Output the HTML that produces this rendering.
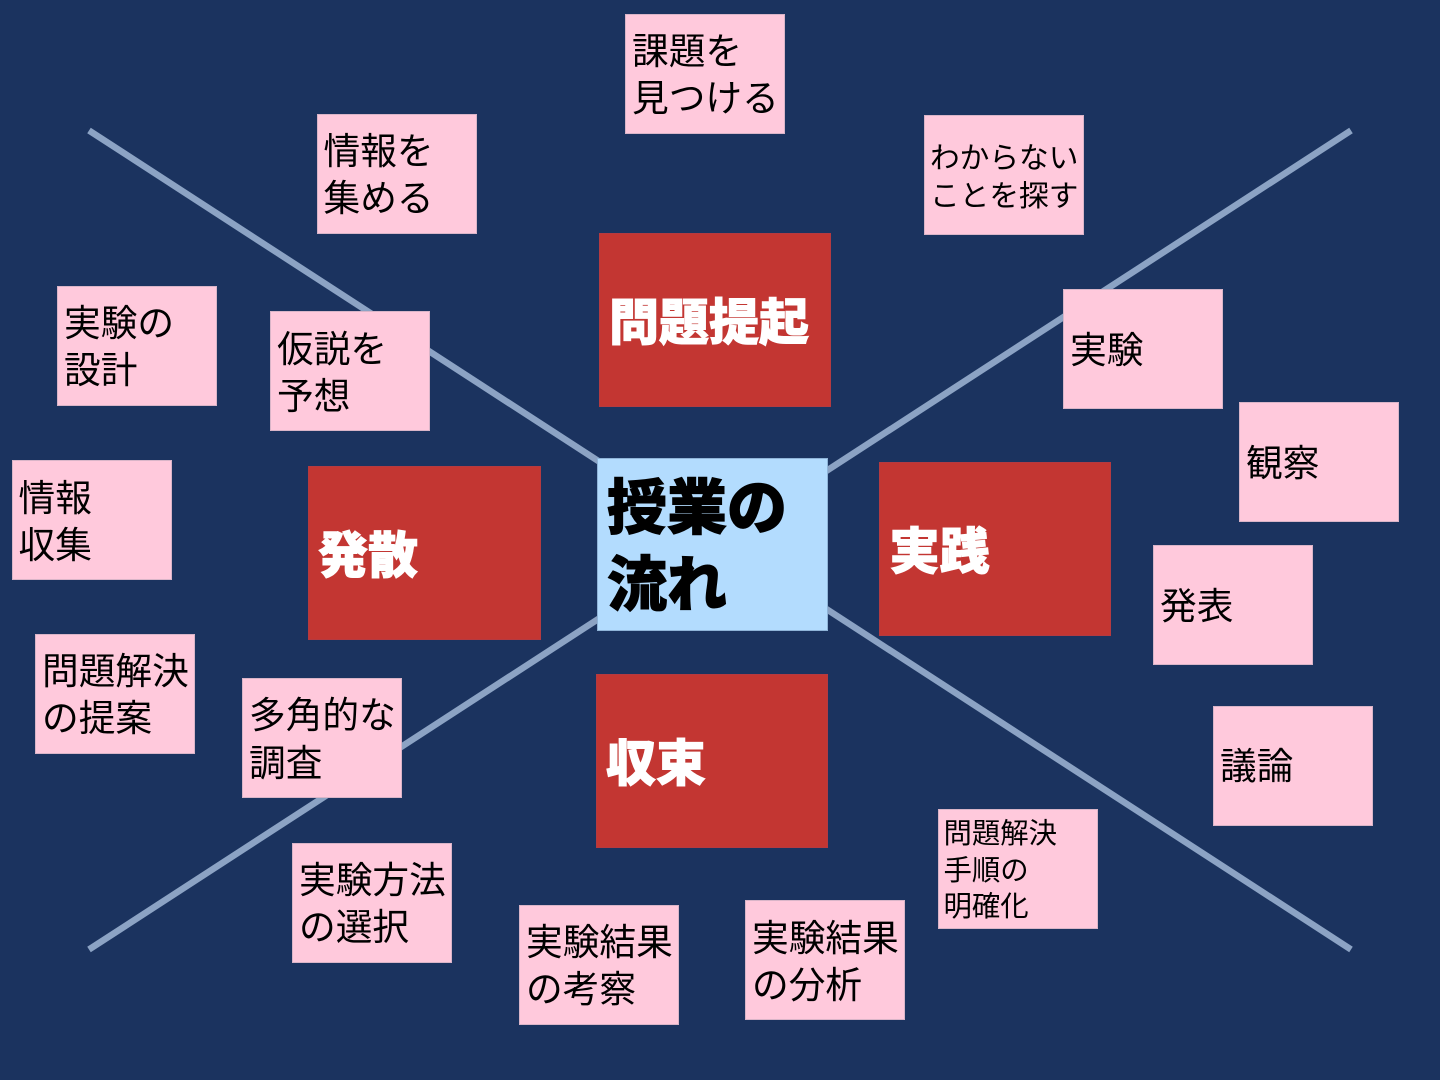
<!DOCTYPE html>
<html lang="ja"><head><meta charset="utf-8"><style>
html,body{margin:0;padding:0}
body{width:1440px;height:1080px;background:#1b335f;position:relative;overflow:hidden;font-family:"Liberation Sans","Noto Sans CJK JP",sans-serif}
svg{position:absolute;left:0;top:0}
.b{position:absolute;box-sizing:border-box}
.p{background:#ffc9dc;width:160px;height:120px;border:1px solid #d9b5c8}
.r{background:#c33632;width:232px;height:174px;border:1px solid #b53a40}
.t{position:absolute;white-space:nowrap;line-height:1;color:#000}
.p .t{font-size:36.7px;letter-spacing:0}
.r .t{font-size:50px;font-weight:900;color:#fff;-webkit-text-stroke:1px #fff;letter-spacing:0}
.c{font-size:60px;font-weight:900;-webkit-text-stroke:1px #000}
</style></head><body>
<svg width="1440" height="1080"><g stroke="#8ca3c4" stroke-width="6.5"><line x1="89" y1="130.5" x2="1351" y2="949.5"/><line x1="1351" y1="130.5" x2="89" y2="949.5"/></g></svg>

<div class="b r" style="left:599px;top:233px"><span class="t" style="left:9px;top:64px">問題提起</span></div>
<div class="b r" style="left:308px;top:466px;width:233px"><span class="t" style="left:9px;top:64px">発散</span></div>
<div class="b r" style="left:879px;top:462px"><span class="t" style="left:9.5px;top:64px">実践</span></div>
<div class="b r" style="left:596px;top:674px"><span class="t" style="left:9px;top:64px">収束</span></div>

<div class="b" style="left:597px;top:457.5px;width:231px;height:173px;background:#b3dcfe;border:1px solid #8fb4d8">
<span class="t c" style="left:9px;top:20px">授業の</span>
<span class="t c" style="left:9px;top:97px">流れ</span></div>

<div class="b p" style="left:625px;top:14px"><span class="t" style="left:6px;top:19px">課題を</span><span class="t" style="left:6px;top:66px">見つける</span></div>
<div class="b p" style="left:316.5px;top:113.5px"><span class="t" style="left:6px;top:19.5px">情報を</span><span class="t" style="left:6px;top:66.5px">集める</span></div>
<div class="b p" style="left:924px;top:115px"><span class="t" style="left:5px;top:27.5px;font-size:29.7px">わからない</span><span class="t" style="left:5px;top:65.5px;font-size:29.7px">ことを探す</span></div>
<div class="b p" style="left:57px;top:285.5px"><span class="t" style="left:6px;top:19.5px">実験の</span><span class="t" style="left:6px;top:66.5px">設計</span></div>
<div class="b p" style="left:270px;top:311px"><span class="t" style="left:6px;top:19.5px">仮説を</span><span class="t" style="left:6px;top:66.5px">予想</span></div>
<div class="b p" style="left:1063px;top:289px"><span class="t" style="left:6px;top:42.5px">実験</span></div>
<div class="b p" style="left:1239px;top:402px"><span class="t" style="left:6px;top:42.5px">観察</span></div>
<div class="b p" style="left:11.5px;top:460px"><span class="t" style="left:6px;top:19.5px">情報</span><span class="t" style="left:6px;top:66.5px">収集</span></div>
<div class="b p" style="left:1153px;top:545px"><span class="t" style="left:6px;top:42.5px">発表</span></div>
<div class="b p" style="left:35px;top:633.5px"><span class="t" style="left:6px;top:19.5px">問題解決</span><span class="t" style="left:6px;top:66px">の提案</span></div>
<div class="b p" style="left:242px;top:678px"><span class="t" style="left:6px;top:19px">多角的な</span><span class="t" style="left:6px;top:66.5px">調査</span></div>
<div class="b p" style="left:1213px;top:706px"><span class="t" style="left:6px;top:42px">議論</span></div>
<div class="b p" style="left:938px;top:809px"><span class="t" style="left:4.5px;top:10px;font-size:28.4px">問題解決</span><span class="t" style="left:4.5px;top:47px;font-size:28.4px">手順の</span><span class="t" style="left:4.5px;top:83px;font-size:28.4px">明確化</span></div>
<div class="b p" style="left:292px;top:843px"><span class="t" style="left:6px;top:19px">実験方法</span><span class="t" style="left:6px;top:66px">の選択</span></div>
<div class="b p" style="left:519px;top:904.5px"><span class="t" style="left:6px;top:19px">実験結果</span><span class="t" style="left:6px;top:66px">の考察</span></div>
<div class="b p" style="left:745px;top:900px"><span class="t" style="left:6px;top:19.5px">実験結果</span><span class="t" style="left:6px;top:66.5px">の分析</span></div>
</body></html>
